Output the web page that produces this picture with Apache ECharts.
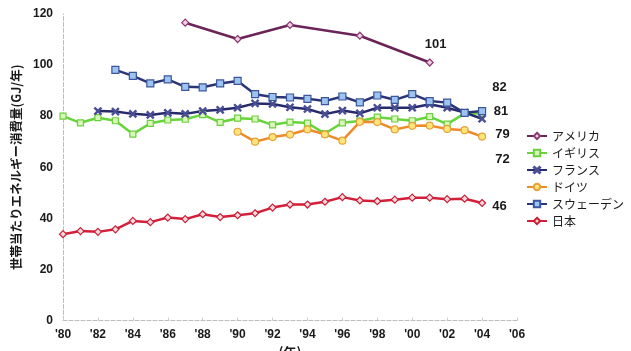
<!DOCTYPE html>
<html>
<head>
<meta charset="utf-8">
<script src="https://cdn.jsdelivr.net/npm/echarts@6/dist/echarts.min.js"></script>
<style>
  html, body { margin: 0; padding: 0; background: #fff; }
  #chart { width: 631px; height: 351px; }
</style>
</head>
<body>
<div id="chart"></div>
<script>
// Household energy consumption per household (GJ/year), 1980-2004
var years = [1980, 1981, 1982, 1983, 1984, 1985, 1986, 1987, 1988, 1989, 1990, 1991, 1992,
             1993, 1994, 1995, 1996, 1997, 1998, 1999, 2000, 2001, 2002, 2003, 2004];

var usa     = [null, null, null, null, null, null, null, 116.6, null, null, 110.2, null, null,
               115.7, null, null, null, 111.5, null, null, null, 101, null, null, null];
var uk      = [80.0, 77.4, 79.4, 78.2, 73.0, 77.2, 78.5, 78.8, 80.6, 77.6, 79.2, 78.9, 76.6,
               77.7, 77.3, 73.2, 77.4, 78.1, 79.6, 78.9, 78.2, 79.8, 76.9, 81.1, 81];
var france  = [null, null, 82.0, 81.8, 80.9, 80.5, 81.3, 80.9, 82.0, 82.5, 83.3, 85.0, 84.8,
               83.5, 82.8, 80.8, 82.2, 81.1, 83.3, 83.3, 83.3, 84.7, 83.3, 81.4, 79];
var germany = [null, null, null, null, null, null, null, null, null, null, 73.9, 70.0, 71.8,
               72.8, 74.8, 72.9, 70.4, 77.8, 77.7, 74.8, 76.2, 76.3, 75.0, 74.5, 72];
var sweden  = [null, null, null, 98.1, 95.8, 92.8, 94.4, 91.5, 91.3, 92.8, 93.8, 88.6, 87.5,
               87.3, 86.8, 85.9, 87.7, 85.4, 88.1, 86.4, 88.6, 85.9, 85.3, 81.3, 82];
var japan   = [33.8, 35.0, 34.7, 35.7, 39.0, 38.5, 40.3, 39.7, 41.6, 40.5, 41.2, 42.0, 44.2,
               45.4, 45.4, 46.5, 48.3, 47.0, 46.7, 47.3, 48.1, 48.1, 47.5, 47.7, 46];

var seriesNames = ['アメリカ', 'イギリス', 'フランス', 'ドイツ', 'スウェーデン', '日本'];
var yTicks = [0, 20, 40, 60, 80, 100, 120];

var labelFont = { color: '#1a1a1a', fontSize: 13, fontWeight: 'bold', fontFamily: 'Liberation Sans, Arial, sans-serif' };

// Pair each value with its year; the last real point carries the value label.
function build(values, labelOpt) {
  var last = -1;
  values.forEach(function (v, i) { if (v !== null) last = i; });
  return values.map(function (v, i) {
    if (v === null) return [years[i], null];
    if (i === last) {
      return { value: [years[i], v], label: Object.assign({ show: true, formatter: '{@[1]}' }, labelFont, labelOpt) };
    }
    return [years[i], v];
  });
}

var xMark = 'path://M0,1.2L1.2,0L5,3.8L8.8,0L10,1.2L6.2,5L10,8.8L8.8,10L5,6.2L1.2,10L0,8.8L3.8,5Z';

function line(name, values, lineColor, symbol, size, fill, border, labelOpt) {
  return {
    name: name,
    type: 'line',
    data: build(values, labelOpt),
    connectNulls: true,
    symbol: symbol,
    symbolSize: size,
    showAllSymbol: true,
    lineStyle: { color: lineColor, width: 2.5 },
    itemStyle: { color: fill, borderColor: border, borderWidth: 1.2 },
    emphasis: { disabled: true },
    z: 2
  };
}

var chart = echarts.init(document.getElementById('chart'), null, { renderer: 'canvas' });
chart.setOption({
  animation: false,
  backgroundColor: '#ffffff',
  grid: { left: 63, right: 114, top: 14, bottom: 30.5, containLabel: false, outerBoundsMode: 'none' },
  legend: {
    orient: 'vertical',
    left: 521,
    top: 124,
    itemWidth: 20,
    itemHeight: 8,
    itemGap: 3,
    data: seriesNames,
    textStyle: { color: '#1a1a1a', fontSize: 12, lineHeight: 14, fontFamily: 'Noto Sans CJK JP, sans-serif' }
  },
  xAxis: {
    type: 'value',
    min: 1980,
    max: 2006,
    interval: 2,
    name: '(年)',
    nameLocation: 'middle',
    nameGap: 20,
    nameTextStyle: { color: '#1a1a1a', fontSize: 13, fontWeight: 'bold', fontFamily: 'Noto Sans CJK JP, sans-serif' },
    axisLine: { show: true, lineStyle: { color: '#bdbdbd', type: 'dashed', width: 1 } },
    axisTick: { show: true, inside: true, length: 3, lineStyle: { color: '#cfcfcf' } },
    splitLine: { show: false },
    axisLabel: {
      margin: 8,
      color: '#1a1a1a', fontSize: 12, fontWeight: 'bold', fontFamily: 'Liberation Sans, Arial, sans-serif',
      formatter: function (v) { return "'" + String(v).slice(2); }
    }
  },
  yAxis: {
    type: 'value',
    min: yTicks[0],
    max: yTicks[yTicks.length - 1],
    interval: 20,
    name: '世帯当たりエネルギー消費量(GJ/年)',
    nameLocation: 'middle',
    nameGap: 38,
    nameTextStyle: { color: '#1a1a1a', fontSize: 12.5, fontWeight: 'bold', fontFamily: 'Noto Sans CJK JP, sans-serif' },
    axisLine: { show: true, lineStyle: { color: '#bdbdbd', type: 'dashed', width: 1 } },
    axisTick: { show: false },
    splitLine: { show: false },
    axisLabel: { margin: 10, color: '#1a1a1a', fontSize: 12, fontWeight: 'bold', fontFamily: 'Liberation Sans, Arial, sans-serif' }
  },
  series: [
    line(seriesNames[0], usa, '#6a2457', 'diamond', 7, '#f3cfe6', '#8a3a72', { position: 'top', distance: 5, offset: [6, -3] }),
    line(seriesNames[1], uk, '#66d43a', 'rect', 6, '#d9f7b8', '#6ccf40', { position: 'right', distance: 8, offset: [0, -2] }),
    line(seriesNames[2], france, '#272b6c', xMark, 7, '#4a4f95', '#4a4f95', { position: 'right', distance: 9, offset: [0, 16] }),
    line(seriesNames[3], germany, '#ef8a2b', 'circle', 7, '#ffe47a', '#e3a23a', { position: 'right', distance: 9, offset: [0, 23] }),
    line(seriesNames[4], sweden, '#2c3676', 'rect', 7, '#9dc3f0', '#3b569c', { position: 'right', distance: 6, offset: [0, -24] }),
    line(seriesNames[5], japan, '#d31f3a', 'diamond', 7, '#fbd9de', '#c81e36', { position: 'right', distance: 6, offset: [0, 3] })
  ]
});
</script>
</body>
</html>
